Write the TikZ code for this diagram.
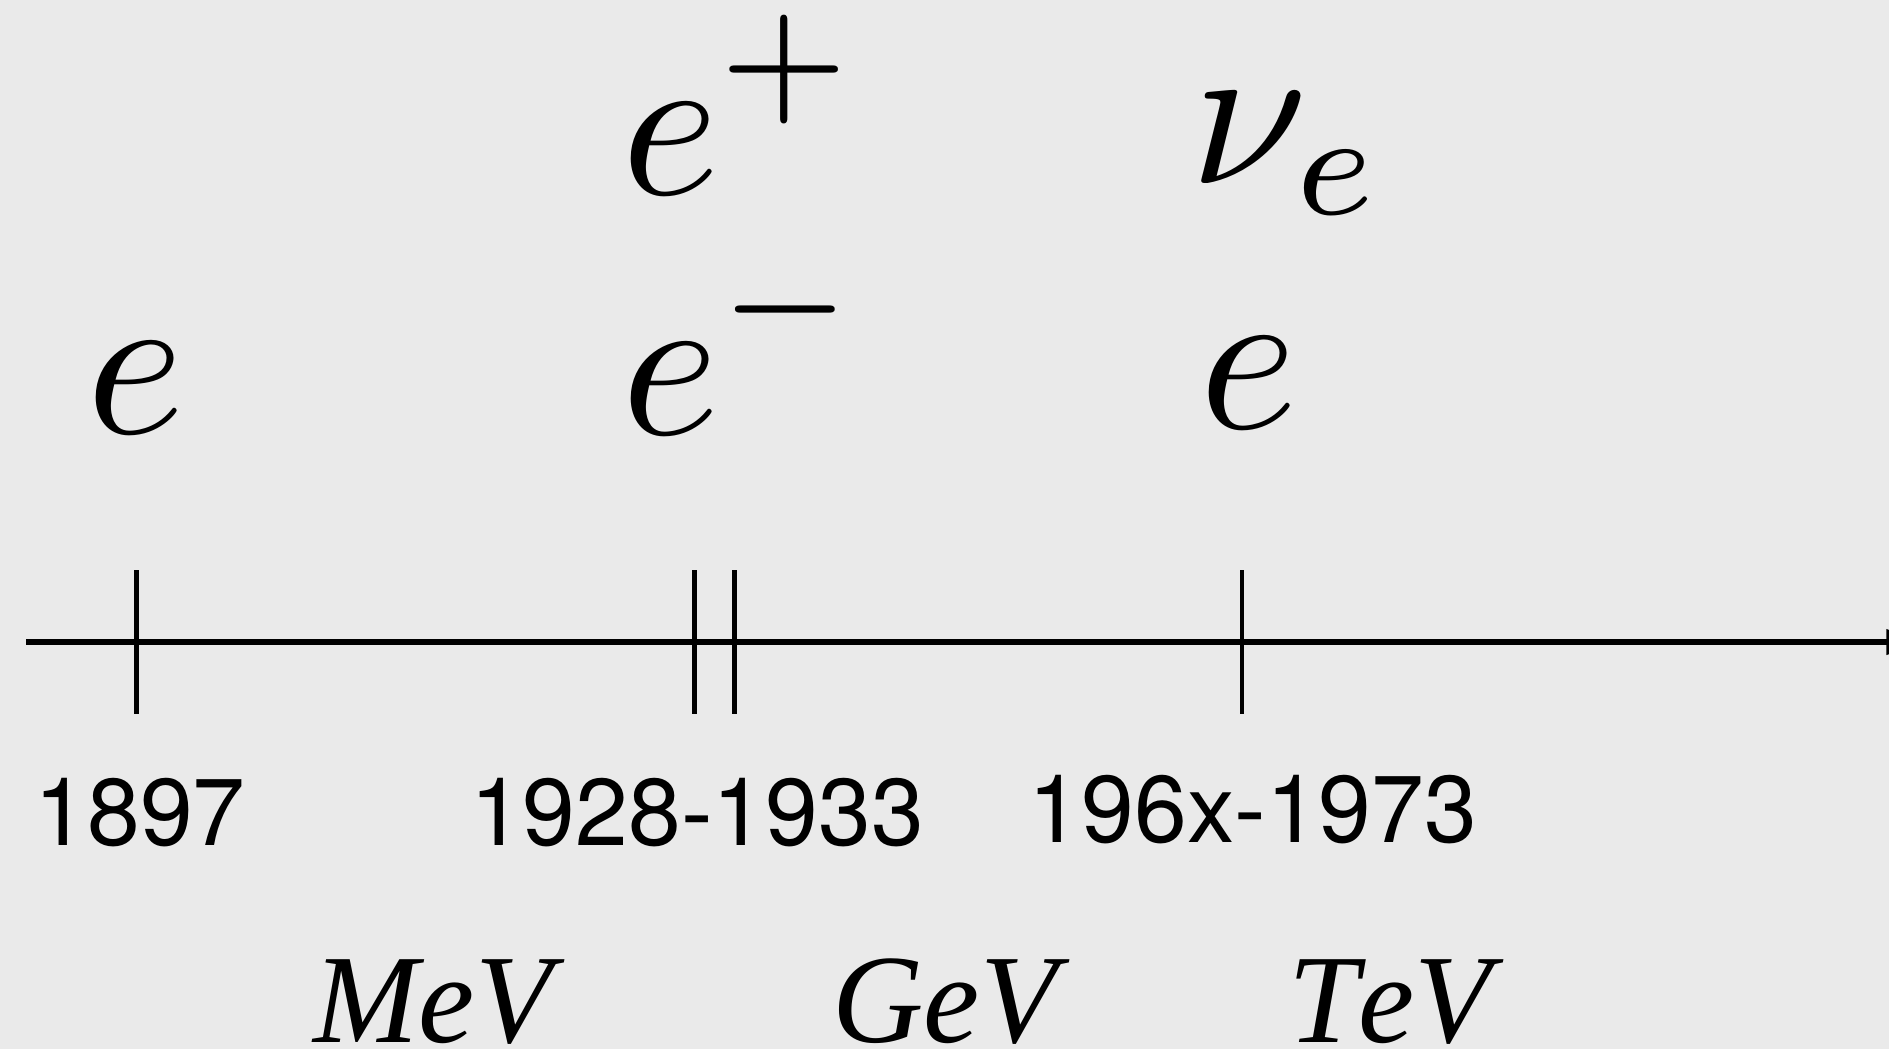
\RequirePackage{fix-cm}
\documentclass[tikz,border=0pt]{standalone}
\usepackage{fontspec}
\newfontfamily\yearfont{TeX Gyre Heros}
\newfontfamily\unitfont[Kerning=Off]{Liberation Serif}
\usetikzlibrary{arrows.meta}
\definecolor{bg}{RGB}{234,234,234}
\newcommand{\bigformula}[1]{\scalebox{12}{$\displaystyle #1$}}
\tikzset{
  particle/.style={inner sep=0pt, anchor=base west},
  year/.style={inner sep=0pt, anchor=base, font=\yearfont\fontsize{54}{60}\selectfont},
  energy/.style={inner sep=0pt, anchor=base, font=\unitfont\itshape\fontsize{72}{80}\selectfont},
  axisline/.style={line width=2.9pt, -{Triangle[length=22pt,width=14pt]}},
  tickline/.style={line width=2.8pt},
}
\begin{document}
\begin{tikzpicture}[x=0.02cm, y=-0.02cm]
\fill[bg] (0,0) rectangle (1889,1049);
\useasboundingbox (0,0) rectangle (1889,1049);
% axis
\coordinate (axL) at (26,642);
\coordinate (axR) at (1925,642);
\draw[axisline] (axL) -- (axR);
% ticks
\coordinate (t1a) at (136.5,570); \coordinate (t1b) at (136.5,714);
\coordinate (t2a) at (694.5,570); \coordinate (t2b) at (694.5,714);
\coordinate (t3a) at (734.5,570); \coordinate (t3b) at (734.5,714);
\coordinate (t4a) at (1242,570); \coordinate (t4b) at (1242,714);
\draw[tickline] (t1a) -- (t1b);
\draw[tickline] (t2a) -- (t2b);
\draw[tickline] (t3a) -- (t3b);
\draw[tickline] (t4a) -- (t4b);
% particles
\node[particle] (e1) at (86,433) {\bigformula{e}};
\node[particle] (em) at (621,434) {\bigformula{e^-}};
\node[particle] (ep) at (621,194) {\bigformula{e^+}};
\node[particle] (e3) at (1199,428) {\bigformula{e}};
\node[particle] (nu) at (1190,183) {\bigformula{\nu_e}};
% years
\node[year] (y1) at (140,845) {1897};
\node[year] (y2) at (697,845) {1928-1933};
\node[year] (y3) at (1253,842) {196x-1973};
% energies
\node[energy] (mev) at (433,1042) {MeV};
\node[energy] (gev) at (945,1042) {GeV};
\node[energy] (tev) at (1390,1042) {TeV};
\end{tikzpicture}
\end{document}
